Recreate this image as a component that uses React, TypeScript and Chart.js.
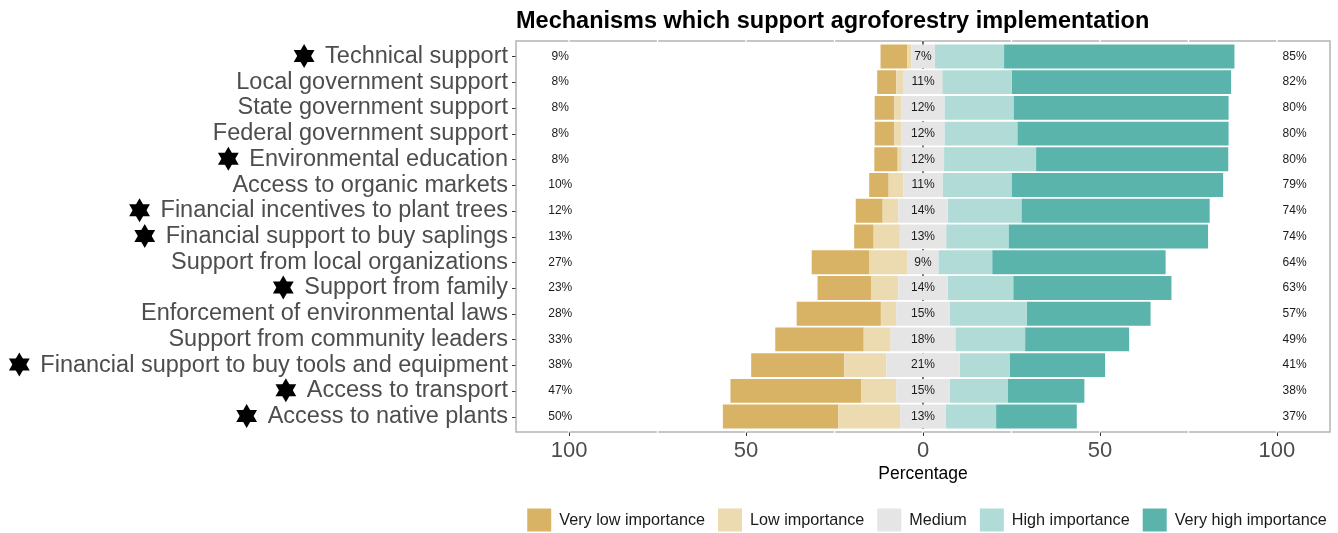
import React, { useEffect, useRef } from "react";
import { Chart, registerables } from "chart.js";

Chart.register(...registerables);

const categories = [
  "Technical support",
  "Local government support",
  "State government support",
  "Federal government support",
  "Environmental education",
  "Access to organic markets",
  "Financial incentives to plant trees",
  "Financial support to buy saplings",
  "Support from local organizations",
  "Support from family",
  "Enforcement of environmental laws",
  "Support from community leaders",
  "Financial support to buy tools and equipment",
  "Access to transport",
  "Access to native plants",
];
const starred = [true, false, false, false, true, false, true, true, false, true, false, false, true, true, true];

const veryLow = [7.6, 5.4, 5.5, 5.5, 6.6, 5.5, 7.6, 5.5, 16.2, 15.1, 23.8, 25.0, 26.3, 36.9, 32.6];
const low = [1.1, 2.1, 2.1, 2.1, 1.2, 4.2, 4.4, 7.4, 10.9, 7.7, 4.3, 7.6, 11.9, 9.9, 17.5];
const medium = [6.6, 10.9, 12.1, 12.1, 11.9, 11.0, 14.0, 13.1, 8.7, 14.0, 15.2, 18.3, 20.7, 15.2, 12.9];
const high = [19.6, 19.6, 19.5, 20.6, 26.0, 19.5, 20.8, 17.6, 15.2, 18.5, 21.7, 19.7, 14.1, 16.3, 14.2];
const veryHigh = [65.1, 62.0, 60.8, 59.7, 54.3, 59.8, 53.2, 56.4, 49.0, 44.7, 35.0, 29.4, 27.0, 21.7, 22.8];

const lowLabels = ["9%", "8%", "8%", "8%", "8%", "10%", "12%", "13%", "27%", "23%", "28%", "33%", "38%", "47%", "50%"];
const midLabels = ["7%", "11%", "12%", "12%", "12%", "11%", "14%", "13%", "9%", "14%", "15%", "18%", "21%", "15%", "13%"];
const highLabels = ["85%", "82%", "80%", "80%", "80%", "79%", "74%", "74%", "64%", "63%", "57%", "49%", "41%", "38%", "37%"];

const levelNames = ["Very low importance", "Low importance", "Medium", "High importance", "Very high importance"];
const levelColors = ["#D8B365", "#ECDAB0", "#E5E5E5", "#B0DBD6", "#5AB4AC"];

const xTicks = [-100, -50, 0, 50, 100];
const gridValues = [-100, -75, -50, -25, 0, 25, 50, 75, 100];
const titleText = "Mechanisms which support agroforestry implementation";
const xTitle = "Percentage";

const FONT = "'Liberation Sans', Arial, Helvetica, sans-serif";
const LABEL_SIZE = 23.5;

function hexagram(ctx: CanvasRenderingContext2D, cx: number, cy: number, r: number) {
  for (let t = 0; t < 2; t++) {
    ctx.beginPath();
    for (let k = 0; k < 3; k++) {
      const a = -Math.PI / 2 + t * Math.PI + (k * 2 * Math.PI) / 3;
      const px = cx + r * Math.cos(a);
      const py = cy + r * Math.sin(a);
      if (k === 0) ctx.moveTo(px, py);
      else ctx.lineTo(px, py);
    }
    ctx.closePath();
    ctx.fill();
  }
}

export default function App() {
  const ref = useRef<HTMLCanvasElement>(null);

  useEffect(() => {
    const canvas = ref.current!;
    const half = medium.map((v) => v / 2);
    const base = { borderWidth: 0, barPercentage: 0.93, categoryPercentage: 1 };
    const datasets = [
      { label: levelNames[2], data: half.map((v) => -v), backgroundColor: levelColors[2] },
      { label: levelNames[2], data: half, backgroundColor: levelColors[2] },
      { label: levelNames[1], data: low.map((v) => -v), backgroundColor: levelColors[1] },
      { label: levelNames[3], data: high, backgroundColor: levelColors[3] },
      { label: levelNames[0], data: veryLow.map((v) => -v), backgroundColor: levelColors[0] },
      { label: levelNames[4], data: veryHigh, backgroundColor: levelColors[4] },
    ].map((d) => ({ ...d, ...base }));

    const panelPlugin = {
      id: "panel",
      beforeDatasetsDraw(chart: any) {
        const { ctx, chartArea } = chart;
        const xs = chart.scales.x;
        const ys = chart.scales.y;
        const pitch = (chartArea.bottom - chartArea.top) / categories.length;
        const top = chartArea.top - 0.1 * pitch;
        const bottom = chartArea.bottom + 0.1 * pitch;
        ctx.save();
        ctx.strokeStyle = "#B8B8B8";
        ctx.lineWidth = 1.6;
        ctx.strokeRect(chartArea.left, top, chartArea.right - chartArea.left, bottom - top);
        ctx.strokeStyle = "#FFFFFF";
        ctx.lineWidth = 1.4;
        gridValues.forEach((v) => {
          const x = xs.getPixelForValue(v);
          ctx.beginPath();
          ctx.moveTo(x, top - 2);
          ctx.lineTo(x, bottom + 2);
          ctx.stroke();
        });
        ctx.strokeStyle = "#333333";
        ctx.lineWidth = 1;
        xTicks.forEach((v) => {
          const x = Math.round(xs.getPixelForValue(v)) + 0.5;
          ctx.beginPath();
          ctx.moveTo(x, bottom + 0.5);
          ctx.lineTo(x, bottom + 4);
          ctx.stroke();
        });
        categories.forEach((_, i) => {
          const y = Math.round(ys.getPixelForValue(i)) + 0.5;
          ctx.beginPath();
          ctx.moveTo(chartArea.left - 4, y);
          ctx.lineTo(chartArea.left - 0.5, y);
          ctx.stroke();
        });
        const x0 = xs.getPixelForValue(0);
        ctx.strokeStyle = "#000000";
        ctx.lineWidth = 1.1;
        ctx.setLineDash([4, 4]);
        ctx.beginPath();
        ctx.moveTo(x0, top);
        ctx.lineTo(x0, bottom);
        ctx.stroke();
        ctx.restore();
      },
      afterDatasetsDraw(chart: any) {
        const { ctx, chartArea } = chart;
        const xs = chart.scales.x;
        const ys = chart.scales.y;
        ctx.save();
        ctx.font = `12px ${FONT}`;
        ctx.fillStyle = "#1A1A1A";
        ctx.textAlign = "center";
        ctx.textBaseline = "middle";
        categories.forEach((_, i) => {
          const y = ys.getPixelForValue(i);
          ctx.fillText(lowLabels[i], xs.getPixelForValue(-102.5), y);
          ctx.fillText(midLabels[i], xs.getPixelForValue(0), y);
          ctx.fillText(highLabels[i], xs.getPixelForValue(105), y);
        });
        // star markers before the flagged labels
        ctx.font = `${LABEL_SIZE}px ${FONT}`;
        const widths = categories.map((c) => ctx.measureText(c).width);
        ctx.fillStyle = "#000000";
        categories.forEach((_, i) => {
          if (!starred[i]) return;
          const left = chartArea.left - 8 - widths[i];
          hexagram(ctx, left - 21, ys.getPixelForValue(i) - 0.5, 12);
        });
        // title
        ctx.font = `bold 23.5px ${FONT}`;
        ctx.textAlign = "left";
        ctx.textBaseline = "alphabetic";
        ctx.fillStyle = "#000000";
        ctx.fillText(titleText, chartArea.left, 27.5);
        // legend
        ctx.font = `16.2px ${FONT}`;
        const boxW = 24;
        const boxH = 23;
        const gapText = 8;
        const gapItem = 13;
        const tw = levelNames.map((n) => ctx.measureText(n).width);
        const total = tw.reduce((a, b) => a + b, 0) + levelNames.length * (boxW + gapText) + (levelNames.length - 1) * gapItem;
        let x = 927 - total / 2;
        const ly = 520;
        ctx.textBaseline = "middle";
        levelNames.forEach((n, i) => {
          ctx.fillStyle = levelColors[i];
          ctx.fillRect(x, ly - boxH / 2, boxW, boxH);
          x += boxW + gapText;
          ctx.fillStyle = "#1A1A1A";
          ctx.fillText(n, x, ly + 1);
          x += tw[i] + gapItem;
        });
        ctx.restore();
      },
    };

    const chart = new Chart(canvas, {
      type: "bar",
      data: { labels: categories, datasets },
      options: {
        indexAxis: "y",
        responsive: false,
        animation: false,
        devicePixelRatio: 1,
        layout: { padding: { top: 43.57, right: 8, left: 0, bottom: 0 } },
        plugins: { legend: { display: false }, tooltip: { enabled: false }, title: { display: false } },
        scales: {
          x: {
            type: "linear",
            stacked: true,
            min: -115,
            max: 115,
            grid: { display: false, drawTicks: false },
            border: { display: false },
            afterBuildTicks: (s: any) => {
              s.ticks = xTicks.map((v) => ({ value: v }));
            },
            afterFit: (s: any) => {
              s.height = 103.57;
            },
            ticks: {
              callback: (v: any) => String(Math.abs(Number(v))),
              font: { family: FONT, size: 22 },
              color: "#4D4D4D",
              padding: 8,
              maxRotation: 0,
              autoSkip: false,
            },
            title: {
              display: true,
              text: xTitle,
              font: { family: FONT, size: 17.5 },
              color: "#000000",
              padding: { top: 0, bottom: 48.5 },
            },
          },
          y: {
            type: "category",
            stacked: true,
            grid: { display: false, drawTicks: false },
            border: { display: false },
            afterFit: (s: any) => {
              s.width = 516;
            },
            ticks: {
              font: { family: FONT, size: LABEL_SIZE },
              color: "#4D4D4D",
              padding: 8,
              autoSkip: false,
            },
          },
        },
      },
      plugins: [panelPlugin],
    } as any);

    return () => chart.destroy();
  }, []);

  return (
    <div style={{ position: "fixed", left: 0, top: 0, width: 1338, height: 533, background: "#FFFFFF" }}>
      <canvas ref={ref} width={1338} height={533} style={{ width: 1338, height: 533, display: "block" }} />
    </div>
  );
}
